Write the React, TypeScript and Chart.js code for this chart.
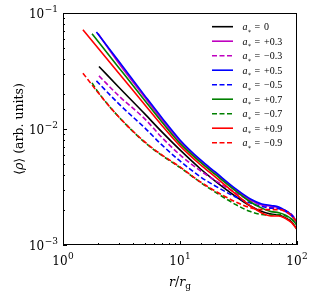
import React, { useEffect, useRef } from "react";
import { Chart, registerables } from "chart.js";
Chart.register(...registerables);

// spin labels (legend order) and styles
const spinLabels = ["0", "+0.3", "\u22120.3", "+0.5", "\u22120.5", "+0.7", "\u22120.7", "+0.9", "\u22120.9"];
const spinColors = ["#000000", "#bf00bf", "#bf00bf", "#0000ff", "#0000ff", "#008000", "#008000", "#ff0000", "#ff0000"];
const spinDashed = [false, false, true, false, true, false, true, false, true];

// radius (r / r_g) and density for each spin
const r_a0 = [2.03, 3, 5, 7, 10, 15, 20, 30, 40, 50, 60, 70, 80, 90, 100];
const rho_a0 = [0.0346, 0.0229, 0.0135, 0.00944, 0.0066, 0.00452, 0.00356, 0.00262, 0.00217, 0.00194, 0.00185, 0.00181, 0.00171, 0.00158, 0.00137];

const r_p03 = [1.99, 3, 5, 7, 10, 15, 20, 30, 40, 50, 60, 70, 80, 90, 100];
const rho_p03 = [0.0665, 0.0369, 0.01874, 0.01199, 0.00782, 0.0053, 0.00418, 0.00298, 0.00244, 0.00221, 0.00217, 0.0021, 0.00194, 0.00178, 0.00155];

const r_m03 = [2.03, 3, 5, 7, 10, 15, 20, 30, 40, 50, 60, 70, 80, 90, 100];
const rho_m03 = [0.0287, 0.0193, 0.01223, 0.00846, 0.00598, 0.00435, 0.0036, 0.00281, 0.00242, 0.00221, 0.00213, 0.00208, 0.00198, 0.00183, 0.00161];

const r_p05 = [1.93, 3, 5, 7, 10, 15, 20, 30, 40, 50, 60, 70, 80, 90, 100];
const rho_p05 = [0.0685, 0.0383, 0.0194, 0.0125, 0.00805, 0.00541, 0.00426, 0.00304, 0.00249, 0.00226, 0.00219, 0.00213, 0.00198, 0.00181, 0.00159];

const r_m05 = [1.93, 3, 5, 7, 10, 15, 20, 30, 40, 50, 60, 70, 80, 90, 100];
const rho_m05 = [0.026, 0.01647, 0.01022, 0.00729, 0.0053, 0.00386, 0.00323, 0.00259, 0.0023, 0.00215, 0.00208, 0.00206, 0.00196, 0.00181, 0.00161];

const r_p07 = [1.77, 3, 5, 7, 10, 15, 20, 30, 40, 50, 60, 70, 80, 90, 100];
const rho_p07 = [0.0663, 0.0338, 0.01762, 0.01149, 0.00751, 0.00515, 0.00406, 0.00292, 0.00235, 0.00208, 0.00194, 0.0019, 0.00181, 0.00167, 0.00149];

const r_m07 = [1.77, 2, 3, 5, 7, 10, 15, 20, 30, 40, 50, 60, 70, 80, 90, 100];
const rho_m07 = [0.025, 0.0207, 0.0127, 0.00766, 0.00592, 0.00466, 0.00346, 0.00286, 0.00223, 0.00194, 0.00183, 0.00181, 0.00183, 0.00178, 0.00167, 0.00149];

const r_p09 = [1.48, 3, 5, 7, 10, 15, 20, 30, 40, 50, 60, 70, 80, 90, 100];
const rho_p09 = [0.0718, 0.0303, 0.0162, 0.01074, 0.00715, 0.0049, 0.00386, 0.00275, 0.00217, 0.00189, 0.00178, 0.00178, 0.00169, 0.00156, 0.00136];

const r_m09 = [1.48, 2, 3, 5, 7, 10, 15, 20, 30, 40, 50, 60, 70, 80, 90, 100];
const rho_m09 = [0.0303, 0.0205, 0.0127, 0.00774, 0.00598, 0.00471, 0.00349, 0.00292, 0.00235, 0.0021, 0.00202, 0.00202, 0.00202, 0.00194, 0.00179, 0.00158];

const seriesR = [r_a0, r_p03, r_m03, r_p05, r_m05, r_p07, r_m07, r_p09, r_m09];
const seriesRho = [rho_a0, rho_p03, rho_m03, rho_p05, rho_m05, rho_p07, rho_m07, rho_p09, rho_m09];

const X_MIN = 1, X_MAX = 100, Y_MIN = 0.001, Y_MAX = 0.1;

const SERIF = "'Liberation Serif', 'DejaVu Serif', serif";
const WIDE = "'DejaVu Serif', 'Liberation Serif', serif";
const DASH = [5, 2.5];
const LW = 1.6;

type Run = { t: string; f: string; dy?: number; gap?: number };

function runsWidth(ctx: CanvasRenderingContext2D, runs: Run[]) {
  let w = 0;
  for (const r of runs) { ctx.font = r.f; w += ctx.measureText(r.t).width + (r.gap || 0); }
  return w;
}
function drawRuns(ctx: CanvasRenderingContext2D, runs: Run[], x: number, y: number) {
  let cx = x;
  for (const r of runs) {
    ctx.font = r.f;
    ctx.fillText(r.t, cx, y + (r.dy || 0));
    cx += ctx.measureText(r.t).width + (r.gap || 0);
  }
}

function isPow10(v: number) {
  const l = Math.log10(v);
  return Math.abs(l - Math.round(l)) < 1e-6;
}

const decor = {
  id: "decor",
  afterDraw(chart: any) {
    const ctx: CanvasRenderingContext2D = chart.ctx;
    const { left, right, top, bottom } = chart.chartArea;
    const xs = chart.scales.x, ys = chart.scales.y;
    ctx.save();
    ctx.strokeStyle = "#000";
    ctx.fillStyle = "#000";
    ctx.lineWidth = 1;
    ctx.setLineDash([]);
    ctx.strokeRect(left + 0.5, top + 0.5, right - left - 1, bottom - top - 1);

    // ticks (inward)
    ctx.beginPath();
    for (const t of xs.ticks) {
      const px = Math.round(xs.getPixelForValue(t.value)) + 0.5;
      const len = isPow10(t.value) ? 4 : 2;
      ctx.moveTo(px, bottom);
      ctx.lineTo(px, bottom - len);
    }
    for (const t of ys.ticks) {
      const py = Math.round(ys.getPixelForValue(t.value)) + 0.5;
      const len = isPow10(t.value) ? 4 : 2;
      ctx.moveTo(left, py);
      ctx.lineTo(left + len, py);
    }
    ctx.stroke();

    // tick labels
    ctx.textBaseline = "alphabetic";
    ctx.textAlign = "left";
    const big = `12px ${WIDE}`, small = `9px ${WIDE}`;
    const label = (e: number): Run[] => [
      { t: "10", f: big, gap: 0.5 },
      { t: String(e).replace("-", "\u2212"), f: small, dy: -6 },
    ];
    for (const t of xs.ticks) {
      if (!isPow10(t.value)) continue;
      const runs = label(Math.round(Math.log10(t.value)));
      const w = runsWidth(ctx, runs);
      const px = xs.getPixelForValue(t.value);
      drawRuns(ctx, runs, px - w / 2, bottom + 20);
    }
    for (const t of ys.ticks) {
      if (!isPow10(t.value)) continue;
      const runs = label(Math.round(Math.log10(t.value)));
      const w = runsWidth(ctx, runs);
      const py = ys.getPixelForValue(t.value);
      drawRuns(ctx, runs, left - 5 - w, py + 5);
    }

    // x title
    const tf = `12.5px ${WIDE}`, tfi = `italic 12.5px ${WIDE}`;
    const xt: Run[] = [
      { t: "r", f: tfi }, { t: "/", f: tf }, { t: "r", f: tfi }, { t: "g", f: `9px ${WIDE}`, dy: 3 },
    ];
    const xw = runsWidth(ctx, xt);
    drawRuns(ctx, xt, (left + right) / 2 - xw / 2, 286);

    // y title
    const yt: Run[] = [
      { t: "\u27E8", f: tf }, { t: "\u03C1", f: tfi }, { t: "\u27E9", f: tf }, { t: " (arb. units)", f: tf },
    ];
    const yw = runsWidth(ctx, yt);
    ctx.save();
    ctx.translate(23, (top + bottom) / 2);
    ctx.rotate(-Math.PI / 2);
    drawRuns(ctx, yt, -yw / 2, 0);
    ctx.restore();

    // legend
    const lf = `10px ${SERIF}`, lfi = `italic 10px ${SERIF}`;
    for (let i = 0; i < spinLabels.length; i++) {
      const cy = 26.7 + i * 14.5;
      ctx.beginPath();
      ctx.strokeStyle = spinColors[i];
      ctx.lineWidth = LW;
      ctx.setLineDash(spinDashed[i] ? DASH : []);
      ctx.moveTo(212, cy);
      ctx.lineTo(233, cy);
      ctx.stroke();
      ctx.setLineDash([]);
      ctx.fillStyle = "#000";
      drawRuns(ctx, [{ t: "a", f: lfi }, { t: "\u2217", f: `6px ${SERIF}`, dy: 2.5 }], 242.5, cy + 3.5);
      ctx.font = lf;
      ctx.fillText("=", 254.5, cy + 3.5);
      ctx.fillText(spinLabels[i], 264, cy + 3.5);
    }
    ctx.restore();
  },
};

export default function App() {
  const ref = useRef<HTMLCanvasElement | null>(null);
  useEffect(() => {
    if (!ref.current) return;
    const datasets = seriesR.map((rs, i) => ({
      label: spinLabels[i],
      data: rs.map((r, j) => ({ x: r, y: seriesRho[i][j] })),
      borderColor: spinColors[i],
      backgroundColor: spinColors[i],
      borderWidth: LW,
      borderDash: spinDashed[i] ? DASH : [],
      pointRadius: 0,
      fill: false,
      cubicInterpolationMode: "monotone" as const,
      order: spinLabels.length - i,
    }));
    const chart = new Chart(ref.current, {
      type: "line",
      data: { datasets },
      options: {
        animation: false,
        responsive: false,
        maintainAspectRatio: false,
        layout: { padding: { top: 13, right: 19, left: 0, bottom: 0 } },
        plugins: { legend: { display: false }, tooltip: { enabled: false } },
        scales: {
          x: {
            type: "logarithmic",
            min: X_MIN,
            max: X_MAX,
            grid: { display: false },
            border: { display: false },
            ticks: { display: false },
            afterFit: (s: any) => { s.height = 49; },
          },
          y: {
            type: "logarithmic",
            min: Y_MIN,
            max: Y_MAX,
            grid: { display: false },
            border: { display: false },
            ticks: { display: false },
            afterFit: (s: any) => { s.width = 63; },
          },
        },
      },
      plugins: [decor],
    });
    return () => chart.destroy();
  }, []);
  return (
    <div style={{ position: "absolute", left: 0, top: 0, width: 316, height: 294, background: "#fff" }}>
      <canvas ref={ref} width={316} height={294} />
    </div>
  );
}
